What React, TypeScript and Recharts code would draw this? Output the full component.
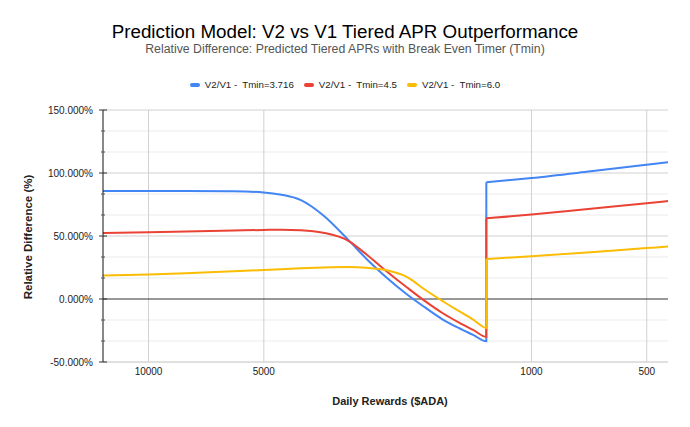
import React from 'react';
import { LineChart, Line, XAxis, YAxis, CartesianGrid } from 'recharts';

// Daily rewards in $ADA (x axis, log scale, shown high -> low)
const rewards = [
  13150, 10000, 8000, 6000, 5000, 4500, 4000, 3500, 3000, 2700, 2400,
  2100, 1900, 1700, 1550, 1420, 1312, 1311.9, 1000, 700, 500, 440,
];

// Relative difference (%) of V2 over V1 for each break-even timer
const tmin3716 = [
  85.7, 85.7, 85.7, 85.5, 84.6, 82.8, 78.5, 66.5, 46.5, 32, 17.5,
  3, -6.5, -16.5, -23, -28.5, -33.5, 92.6, 96, 101.3, 106.5, 108.5,
];
const tmin45 = [
  52.4, 52.9, 53.5, 54.3, 54.8, 55, 54.6, 52.6, 46, 35.5, 22.5,
  8.5, -1.5, -11.5, -18.5, -24.5, -30, 64, 67, 71.7, 76, 77.8,
];
const tmin60 = [
  18.6, 19.4, 20.4, 22, 23, 23.6, 24.4, 25, 25.3, 24.8, 23,
  17, 7.5, -2, -9.5, -16.3, -23, 31.7, 34, 37.2, 40.4, 41.6,
];

const xTicks = [10000, 5000, 1000, 500];
const yTicks = [-50, 0, 50, 100, 150];

const series = [
  { key: 't3716', name: 'V2/V1 -  Tmin=3.716', color: '#4285F4', values: tmin3716 },
  { key: 't45', name: 'V2/V1 -  Tmin=4.5', color: '#EA4335', values: tmin45 },
  { key: 't60', name: 'V2/V1 -  Tmin=6.0', color: '#FBBC04', values: tmin60 },
];

// the tier step: rows up to and including this index belong to the first segment,
// rows from it onwards to the second, so each piece gets its own smooth curve
const STEP = rewards.indexOf(1311.9);

const data = rewards.map((r, i) => {
  const row: Record<string, number | undefined> = { rewards: r };
  series.forEach((s) => {
    row[s.key] = i <= STEP ? s.values[i] : undefined;
    row[`${s.key}_hi`] = i >= STEP ? s.values[i] : undefined;
  });
  return row;
});

// each 50% band gets two minor lines
const yMinor = yTicks.slice(0, -1).flatMap((v) => [v + 50 / 3, v + 100 / 3]);
const yAll = [...yTicks, ...yMinor].sort((a, b) => a - b);

const FONT = '"Liberation Sans", Arial, sans-serif';

const YTick = (props: any) => {
  const { x, y, payload } = props;
  const major = yTicks.includes(payload.value);
  return (
    <g>
      <line
        x1={x - (major ? 4 : 2)}
        x2={x + (major ? 4 : 2)}
        y1={y}
        y2={y}
        stroke={major ? '#333' : '#555'}
        strokeWidth={1}
      />
      {major && (
        <text x={x - 10} y={y} dy="0.35em" textAnchor="end" fontSize={10} fill="#222">
          {payload.value.toFixed(3)}%
        </text>
      )}
    </g>
  );
};

export default function App() {
  return (
    <div
      style={{
        position: 'absolute',
        left: 0,
        top: 0,
        width: 690,
        height: 427,
        background: '#fff',
        fontFamily: FONT,
        overflow: 'hidden',
      }}
    >
      <div
        style={{
          position: 'absolute',
          top: 21,
          left: 0,
          width: 690,
          textAlign: 'center',
          fontSize: 18.8,
          lineHeight: '22px',
          color: '#000',
        }}
      >
        Prediction Model: V2 vs V1 Tiered APR Outperformance
      </div>
      <div
        style={{
          position: 'absolute',
          top: 42,
          left: 0,
          width: 690,
          textAlign: 'center',
          fontSize: 12.3,
          lineHeight: '15px',
          color: '#555',
        }}
      >
        Relative Difference: Predicted Tiered APRs with Break Even Timer (Tmin)
      </div>

      <div
        style={{
          position: 'absolute',
          top: 78,
          left: 0,
          width: 690,
          display: 'flex',
          justifyContent: 'center',
          gap: 10,
          fontSize: 9.7,
          lineHeight: '14px',
          color: '#222',
        }}
      >
        {series.map((s) => (
          <div key={s.key} style={{ display: 'flex', alignItems: 'center' }}>
            <span
              style={{
                display: 'inline-block',
                width: 10,
                height: 4,
                borderRadius: 2,
                background: s.color,
                marginRight: 5,
              }}
            />
            <span style={{ whiteSpace: 'pre' }}>{s.name}</span>
          </div>
        ))}
      </div>

      <div
        style={{
          position: 'absolute',
          left: -72,
          top: 230,
          width: 200,
          textAlign: 'center',
          fontSize: 11.5,
          fontWeight: 'bold',
          lineHeight: '14px',
          color: '#222',
          transform: 'rotate(-90deg)',
        }}
      >
        Relative Difference (%)
      </div>
      <div
        style={{
          position: 'absolute',
          left: 290,
          top: 394,
          width: 200,
          textAlign: 'center',
          fontSize: 11,
          fontWeight: 'bold',
          lineHeight: '14px',
          color: '#222',
        }}
      >
        Daily Rewards ($ADA)
      </div>

      <LineChart
        width={690}
        height={427}
        data={data}
        margin={{ top: 110, right: 22, bottom: 35, left: 43 }}
      >
        <CartesianGrid vertical={false} horizontalValues={yMinor} stroke="#ebebeb" />
        <CartesianGrid vertical={false} horizontalValues={[-50, 50, 100, 150]} stroke="#d0d0d0" />
        <CartesianGrid horizontal={false} verticalValues={xTicks} stroke="#d0d0d0" />
        <CartesianGrid vertical={false} horizontalValues={[0]} stroke="#333" />
        <XAxis
          dataKey="rewards"
          type="number"
          scale="log"
          domain={[440, 13150]}
          allowDataOverflow
          reversed
          ticks={xTicks}
          interval={0}
          height={30}
          tickLine={false}
          tickSize={4}
          tickMargin={2}
          axisLine={{ stroke: '#d9d9d9' }}
          tick={{ fontSize: 10, fill: '#222' }}
        />
        <YAxis
          type="number"
          domain={[-50, 150]}
          ticks={yAll}
          interval={0}
          width={60}
          tickLine={false}
          tickSize={0}
          tickMargin={0}
          axisLine={{ stroke: '#111' }}
          tick={YTick}
        />
        {series.flatMap((s) => [
          <Line
            key={s.key}
            dataKey={s.key}
            name={s.name}
            type="monotone"
            stroke={s.color}
            strokeWidth={2}
            dot={false}
            isAnimationActive={false}
          />,
          <Line
            key={`${s.key}_hi`}
            dataKey={`${s.key}_hi`}
            name={s.name}
            type="monotone"
            stroke={s.color}
            strokeWidth={2}
            dot={false}
            legendType="none"
            isAnimationActive={false}
          />,
        ])}
      </LineChart>
    </div>
  );
}
